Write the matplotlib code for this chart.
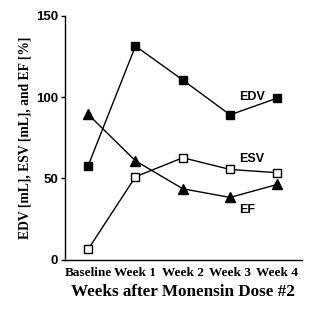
import matplotlib
matplotlib.use("Agg")
import matplotlib.pyplot as plt

categories = ["Baseline", "Week 1", "Week 2", "Week 3", "Week 4"]
edv = [57.8, 131.4, 110.5, 89.1, 99.4]
esv = [6.4, 51.0, 62.7, 55.5, 53.5]
ef = [89.4, 60.8, 43.6, 38.3, 46.3]
yticks = [0, 50, 100, 150]

fig = plt.figure(figsize=(3.23, 3.10), dpi=100)
ax = fig.add_axes([0.1997, 0.1623, 0.7353, 0.7867])
x = list(range(len(categories)))

ax.plot(x, edv, color="black", lw=1.0, marker="s", ms=6, mfc="black", mec="black", mew=1)
ax.plot(x, esv, color="black", lw=1.0, marker="s", ms=6, mfc="white", mec="black", mew=1)
ax.plot(x, ef, color="black", lw=1.0, marker="^", ms=6.5, mfc="black", mec="black", mew=1)

ax.set_xlim(-0.5, 4.52)
ax.set_ylim(0, 150)
ax.set_yticks(yticks)
ax.set_yticklabels([str(v) for v in yticks], family="Liberation Sans", weight="bold", fontsize=9.5)
ax.set_xticks(x)
ax.set_xticklabels(categories, family="Liberation Serif", weight="bold", fontsize=9.5)
ax.tick_params(axis="x", length=0, pad=5)
ax.tick_params(axis="y", length=3, width=1, pad=1.5)
for s in ["top", "right"]:
    ax.spines[s].set_visible(False)
for s in ["left", "bottom"]:
    ax.spines[s].set_linewidth(1.0)

ax.set_xlabel("Weeks after Monensin Dose #2", family="Liberation Serif", weight="bold", fontsize=12.3, labelpad=4)
ax.set_ylabel("EDV [mL], ESV [mL], and EF [%]", family="Liberation Serif", weight="bold", fontsize=9.8, labelpad=3)

ax.text(3.2, 100, "EDV", family="Liberation Sans", weight="bold", fontsize=9, va="center", ha="left")
ax.text(3.2, 62, "ESV", family="Liberation Sans", weight="bold", fontsize=9, va="center", ha="left")
ax.text(3.2, 30.5, "EF", family="Liberation Sans", weight="bold", fontsize=9, va="center", ha="left")

fig.savefig("out.png", dpi=100)
